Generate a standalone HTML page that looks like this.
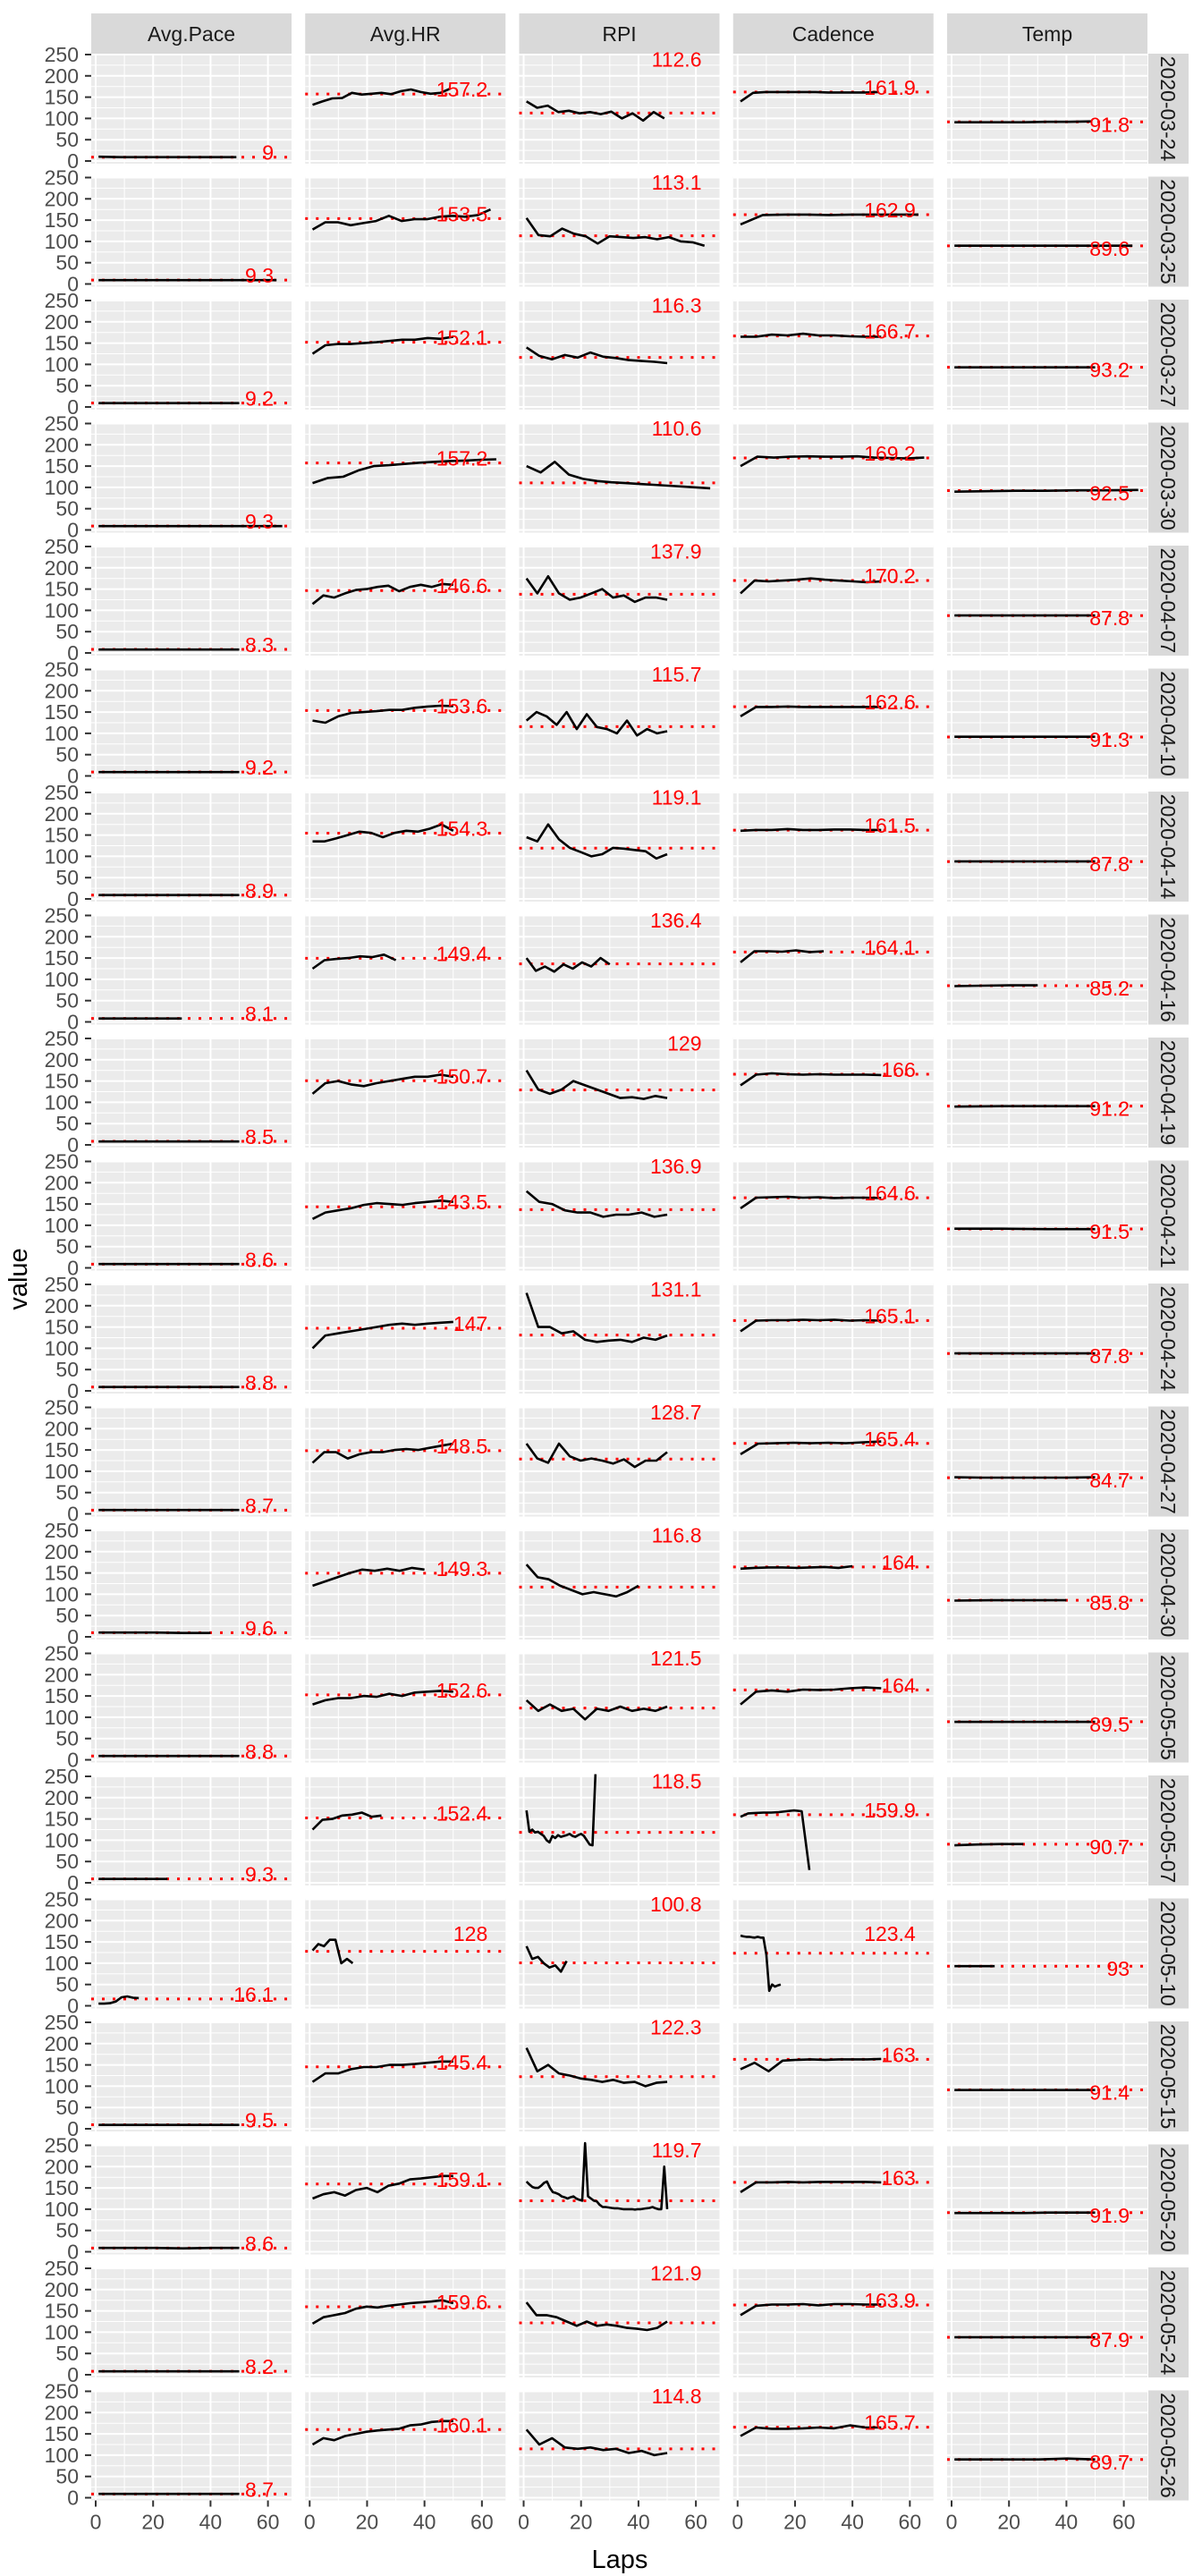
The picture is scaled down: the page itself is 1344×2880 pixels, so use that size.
<!DOCTYPE html>
<html><head><meta charset="utf-8">
<style>
html,body{margin:0;padding:0;background:#fff;}
svg{display:block;font-family:"Liberation Sans",sans-serif;}
</style></head>
<body>
<svg id="chart" width="1344" height="2880" viewBox="0 0 1344 2880" xmlns="http://www.w3.org/2000/svg">
<text x="0" y="0" transform="translate(30,1430) rotate(-90)" text-anchor="middle" font-size="29" fill="#000">value</text>
<text x="693" y="2871" text-anchor="middle" font-size="29" fill="#000">Laps</text>
</svg>
<script>
const metrics=["Avg.Pace","Avg.HR","RPI","Cadence","Temp"];
const dates=["2020-03-24","2020-03-25","2020-03-27","2020-03-30","2020-04-07","2020-04-10","2020-04-14","2020-04-16","2020-04-19","2020-04-21","2020-04-24","2020-04-27","2020-04-30","2020-05-05","2020-05-07","2020-05-10","2020-05-15","2020-05-20","2020-05-24","2020-05-26"];
const laps=[49,63,50,65,50,50,50,30,50,50,50,50,40,50,25,15,50,50,50,50];
const yTicks=[0,50,100,150,200,250];
const xTicks=[0,20,40,60];
const paceVals=[[10,9,9,9,9,9,9],[9,9,9,9,9,9,9],[9,9,9,9,9],[9,9,9,9,9,9],[8,8,8,8,8],[9,9,9,9,9,9],[9,9,9,9,9],[8,8,8,8],[8,8,8,8,8],[9,9,9,9,9],[9,9,9,9,9],[9,9,9,9,9],[10,10,10,9,9],[9,9,9,9,9],[9,9,9,9],[5,5,6,10,20,22,19,18],[9,9,9,9,9],[9,9,9,8,9,9],[8,8,8,8,8],[9,9,9,9,9]];
const hrVals=[[132,140,147,148,160,156,158,160,157,164,168,162,158,160,170],[128,145,145,138,143,148,160,148,152,152,158,160,158,162,175],[125,145,148,148,150,152,155,158,158,162,160,165],[110,122,125,140,150,152,155,158,160,162,163,165,166],[115,135,130,140,148,150,155,158,145,155,160,155,162,160],[130,125,140,148,150,152,155,155,160,163,165,164],[135,135,142,150,158,155,145,155,160,158,165,175,160],[125,145,148,150,154,152,158,145],[120,145,150,142,138,145,150,155,160,160,165,160],[115,130,135,140,148,152,150,148,152,155,158,155],[100,130,135,140,145,150,155,158,155,158,160,162],[120,145,145,130,140,145,145,150,152,150,155,160,165],[120,130,140,150,158,155,160,155,162,158],[130,140,145,145,150,148,155,150,158,160,162,160],[125,148,150,158,160,165,155,158],[130,145,140,155,155,100,110,100],[110,130,130,140,145,145,150,150,152,155,158,158],[125,135,140,132,145,150,140,155,160,170,172,175,178,178],[120,135,140,145,155,160,158,162,165,168,170,172,175,168],[125,140,135,145,150,155,158,160,162,170,172,178,180,180]];
const rpiVals=[[140,125,130,115,118,112,115,110,116,100,112,95,115,100],[155,115,112,130,118,112,95,112,110,108,110,105,110,100,98,90],[140,120,112,122,116,128,118,115,110,108,106,103],[150,135,160,130,120,115,112,110,108,106,104,102,100,98],[175,140,180,140,125,130,140,150,130,135,120,130,130,125],[130,150,140,120,150,110,145,115,110,100,130,95,110,100,105],[145,135,175,140,120,110,100,105,120,118,115,112,95,105],[150,120,130,118,135,125,140,130,150,135],[175,130,120,130,150,140,130,120,110,112,108,115,110],[180,155,150,135,130,130,120,125,125,130,120,125],[230,150,150,135,140,120,115,118,120,115,125,120,130],[165,130,120,165,135,125,130,125,118,128,110,125,125,145],[170,140,135,120,110,100,105,100,95,105,120],[140,115,130,115,120,95,120,115,125,115,120,115,125],[170,120,125,118,120,115,110,100,95,110,105,112,108,110,112,115,110,108,112,115,110,100,90,88,255],[140,110,115,100,90,95,80,105],[190,135,150,130,125,118,115,110,115,108,110,100,108,110],[165,158,152,150,150,155,162,165,150,140,138,135,130,128,125,128,130,125,122,120,255,130,125,120,118,110,105,105,104,103,102,102,101,100,100,100,100,99,100,100,101,102,103,105,102,100,100,200,100],[170,140,140,135,125,115,125,115,118,115,110,108,105,110,125],[160,125,140,118,115,118,112,115,105,110,100,105]];
const cadVals=[[140,160,162,162,162,162,162,161,161,161,161,162],[140,162,163,163,162,163,163,163,163],[165,165,170,168,172,168,168,166,165,165],[150,172,170,172,173,172,172,173,170,169,168,170],[140,170,168,170,172,175,172,170,168,166,168],[140,162,162,163,162,162,162,162,162,162],[160,162,162,164,162,162,163,163,162,162],[140,166,166,165,168,164,166],[140,165,168,166,165,166,165,165,165,164],[140,165,166,167,165,166,164,165,165,164],[140,165,166,166,167,166,167,165,166,165],[140,165,166,167,166,167,166,168,170],[160,162,163,163,162,163,164,162,166],[130,160,163,160,165,164,165,168,170,168],[155,163,164,165,165,166,168,170,168,30],[165,163,162,162,161,160,162,160,160,120,35,50,45,48,50],[140,155,135,160,162,163,162,163,163,163,164],[140,163,163,164,163,164,164,164,164,163],[140,162,165,165,166,163,166,166,165,165],[145,165,162,162,163,165,163,170,165,165]];
const tempVals=[[91,91,91,91,92,92,93],[90,90,90,90],[93,93,93],[90,91,92,92,93,93,94],[88,88,88],[92,92,92],[88,88,88],[84,85,86,86],[90,91,91,91],[92,92,91,91],[88,88,88],[86,85,85,85,85,86],[85,86,86,86],[89,89,89],[88,90,91,91],[93,93,93],[91,91,91],[91,91,91,91,92,92,92],[88,88,88],[90,90,90,90,92,90]];
const paceMean=[9,9.3,9.2,9.3,8.3,9.2,8.9,8.1,8.5,8.6,8.8,8.7,9.6,8.8,9.3,16.1,9.5,8.6,8.2,8.7];
const hrMean=[157.2,153.5,152.1,157.2,146.6,153.6,154.3,149.4,150.7,143.5,147,148.5,149.3,152.6,152.4,128,145.4,159.1,159.6,160.1];
const rpiMean=[112.6,113.1,116.3,110.6,137.9,115.7,119.1,136.4,129,136.9,131.1,128.7,116.8,121.5,118.5,100.8,122.3,119.7,121.9,114.8];
const cadMean=[161.9,162.9,166.7,169.2,170.2,162.6,161.5,164.1,166,164.6,165.1,165.4,164,164,159.9,123.4,163,163,163.9,165.7];
const tempMean=[91.8,89.6,93.2,92.5,87.8,91.3,87.8,85.2,91.2,91.5,87.8,84.7,85.8,89.5,90.7,93,91.4,91.9,87.9,89.7];

const NS="http://www.w3.org/2000/svg";
const svg=document.getElementById('chart');
const series=[paceVals,hrVals,rpiVals,cadVals,tempVals];
const means=[paceMean,hrMean,rpiMean,cadMean,tempMean];
const PX0=102,PW=224,CP=239.25,PT0=60,PH=123,RP=137.5;
function colLeft(c){return PX0+c*CP;}
function xS(c,lap){return colLeft(c)+5+lap*3.21;}
function yS(r,v){return 180+r*RP-v*0.476;}
function mk(tag,attrs,parent){const e=document.createElementNS(NS,tag);for(const k in attrs)e.setAttribute(k,attrs[k]);(parent||svg).appendChild(e);return e;}

// strips top
metrics.forEach((m,c)=>{
  const g=mk('g',{});
  
  
  mk('rect',{x:colLeft(c),y:15,width:PW,height:45,fill:'#D9D9D9'},g);
  const t=mk('text',{x:colLeft(c)+PW/2,y:46,'text-anchor':'middle','font-size':'23',fill:'#1A1A1A'},g);
  t.textContent=m;
});

dates.forEach((d,r)=>{
  const top=PT0+r*RP;
  // right strip
  const sg=mk('g',{});
  
  
  mk('rect',{x:1284,y:top,width:45,height:PH,fill:'#D9D9D9'},sg);
  const st=mk('text',{x:0,y:0,transform:'translate(1306,'+(top+PH/2)+') rotate(90)','text-anchor':'middle','dominant-baseline':'central','font-size':'23',fill:'#1A1A1A'},sg);
  st.textContent=d;
  // y axis ticks
  const ya=mk('g',{});
  
  
  yTicks.forEach(v=>{
    const y=yS(r,v);
    mk('line',{x1:95,x2:102,y1:y,y2:y,stroke:'#333',"stroke-width":2},ya);
    const t=mk('text',{x:88,y:y,'text-anchor':'end','dominant-baseline':'central','font-size':'23',fill:'#4D4D4D'},ya);
    t.textContent=v;
  });
  metrics.forEach((m,c)=>{
    const L=colLeft(c);
    const g=mk('g',{});
    
    
    mk('rect',{x:L,y:top,width:PW,height:PH,fill:'#EBEBEB'},g);
    yTicks.forEach(v=>{
      const ym=yS(r,v+25);
      if(ym>top) mk('line',{x1:L,x2:L+PW,y1:ym,y2:ym,stroke:'#fff','stroke-width':1},g);
      mk('line',{x1:L,x2:L+PW,y1:yS(r,v),y2:yS(r,v),stroke:'#fff','stroke-width':2},g);
    });
    xTicks.forEach(t=>{
      const xm=xS(c,t+10);
      if(xm<L+PW) mk('line',{x1:xm,x2:xm,y1:top,y2:top+PH,stroke:'#fff','stroke-width':1},g);
      mk('line',{x1:xS(c,t),x2:xS(c,t),y1:top,y2:top+PH,stroke:'#fff','stroke-width':2},g);
    });
    const mv=means[c][r];
    const my=yS(r,mv);
    const ml=mk('line',{x1:L,x2:L+PW,y1:my,y2:my,stroke:'#FF0000','stroke-width':3,'stroke-dasharray':'3 9'},g);
    
    
    const vals=series[c][r];
    const n=laps[r];
    let dstr='';
    vals.forEach((v,k)=>{
      const lap=1+k*(n-1)/(vals.length-1);
      dstr+=(k?'L':'M')+xS(c,lap).toFixed(1)+','+yS(r,v).toFixed(1);
    });
    const p=mk('path',{d:dstr,fill:'none',stroke:'#000','stroke-width':2.6,'stroke-linejoin':'round'},g);
    
    
    let ly;
    if(c===2) ly=yS(r,238);
    else if(r===15 && (c===1||c===3)) ly=yS(r,169);
    else if(c===4) ly=my+3;
    else ly=my-5;
    const lt=mk('text',{x:L+204,y:ly,'text-anchor':'end','dominant-baseline':'central','font-size':'23',fill:'#FF0000'},g);
    
    
    lt.textContent=String(mv);
  });
});
// bottom x axes
metrics.forEach((m,c)=>{
  const g=mk('g',{});
  
  
  const base=PT0+19*RP+PH;
  xTicks.forEach(t=>{
    const x=xS(c,t);
    mk('line',{x1:x,x2:x,y1:base,y2:base+7,stroke:'#333','stroke-width':2},g);
    const tx=mk('text',{x:x,y:base+24,'text-anchor':'middle','dominant-baseline':'central','font-size':'23',fill:'#4D4D4D'},g);
    tx.textContent=t;
  });
});
</script>
</body></html>
